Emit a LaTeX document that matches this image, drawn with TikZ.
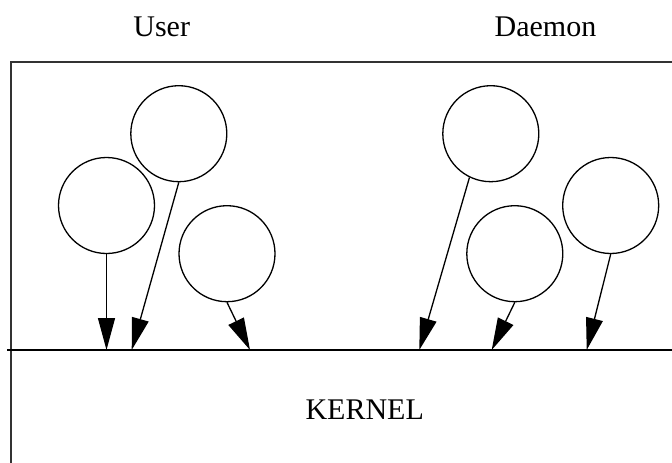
\documentclass[tikz,border=0pt]{standalone}
\usepackage{fontspec}
\setmainfont{Liberation Serif}
\usetikzlibrary{arrows.meta}

\begin{document}
\begin{tikzpicture}[x=1pt, y=-1pt,
  proc/.style={circle, draw, line width=1.3pt, minimum size=96pt, inner sep=0pt},
  call/.style={-{Triangle[length=32pt, width=17pt]}, line width=1.3pt},
  label/.style={font=\fontsize{30}{36}\selectfont, anchor=base}
]
  \useasboundingbox (0,0) rectangle (672,463);

  % Rahmen
  \draw[line width=2pt, black!80] (672,62) -- (11,62) -- (11,463);
  \coordinate (kl) at (7,350);
  \coordinate (kr) at (672,350);
  \draw[line width=2.5pt] (kl) -- (kr);

  % Beschriftungen
  \node[label] (user) at (161.7,36) {User};
  \node[label] (daemon) at (545.5,36) {Daemon};
  \node[label, anchor=base west] (kernel) at (302,419.3) {KERNEL};

  % User-Prozesse
  \node[proc] (u1) at (106.5,205.5) {};
  \node[proc] (u2) at (178.8,133.7) {};
  \node[proc] (u3) at (227,253.7) {};

  % Daemon-Prozesse
  \node[proc] (d1) at (490.8,133.7) {};
  \node[proc] (d2) at (514.8,253.7) {};
  \node[proc] (d3) at (610.7,205.5) {};

  % Eintrittspunkte in den Kern
  \coordinate (k1) at (106.5,350);
  \coordinate (k2) at (131.7,350);
  \coordinate (k3) at (250,350);
  \coordinate (k4) at (419.3,350);
  \coordinate (k5) at (491.7,350);
  \coordinate (k6) at (586.7,350);

  % Systemaufrufe
  \draw[call] (u1.south) -- (k1);
  \draw[call] (u2.south) -- (k2);
  \draw[call] (u3.south) -- (k3);
  \draw[call] (d1.-116) -- (k4);
  \draw[call] (d2.south) -- (k5);
  \draw[call] (d3.south) -- (k6);
\end{tikzpicture}
\end{document}
